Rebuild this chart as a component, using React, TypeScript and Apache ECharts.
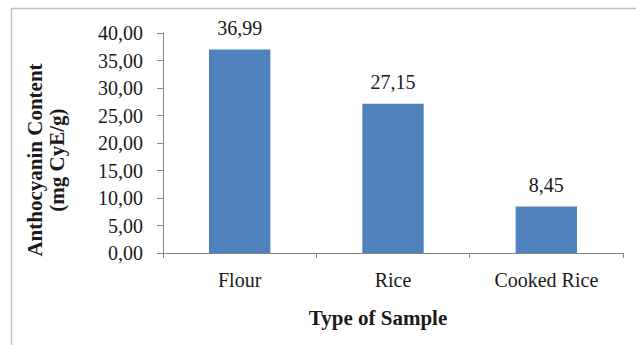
import React, { useEffect, useRef } from "react";
import * as echarts from "echarts";

const categories = ["Flour", "Rice", "Cooked Rice"];
const values = [36.99, 27.15, 8.45];
const yTicks = { min: 0, max: 40, interval: 5 };
const yTitleLines = ["Anthocyanin Content", "(mg CyE/g)"];
const xTitle = "Type of Sample";

const fmt = (v: number) => v.toFixed(2).replace(".", ",");
const FONT = "Times New Roman, Liberation Serif, DejaVu Serif, serif";

export default function App() {
  const ref = useRef<HTMLDivElement>(null);
  useEffect(() => {
    if (!ref.current) return;
    const chart = echarts.init(ref.current, null, { renderer: "svg" });
    chart.setOption({
      animation: false,
      backgroundColor: "#ffffff",
      textStyle: { fontFamily: FONT },
      grid: { left: 163, right: 13, top: 33, bottom: 92, containLabel: false },
      xAxis: {
        type: "category",
        data: categories,
        axisLine: { lineStyle: { color: "#868686", width: 1 } },
        axisTick: { show: true, length: 5, lineStyle: { color: "#868686" } },
        axisLabel: { fontFamily: FONT, fontSize: 20, color: "#1a1a1a", margin: 17 },
      },
      yAxis: {
        type: "value",
        min: yTicks.min,
        max: yTicks.max,
        interval: yTicks.interval,
        splitLine: { show: false },
        axisLine: { show: true, lineStyle: { color: "#868686", width: 1 } },
        axisTick: { show: true, length: 6, lineStyle: { color: "#868686" } },
        axisLabel: {
          fontFamily: FONT,
          fontSize: 20,
          color: "#1a1a1a",
          margin: 20,
          formatter: (v: number) => fmt(v),
        },
      },
      series: [
        {
          type: "bar",
          data: values,
          barWidth: "40%",
          itemStyle: { color: "#4f81bd" },
          label: {
            show: true,
            position: "top",
            distance: 12,
            fontFamily: FONT,
            fontSize: 20,
            color: "#1a1a1a",
            formatter: (p: any) => fmt(p.value),
          },
        },
      ],
      graphic: [
        {
          type: "line",
          shape: { x1: 11, y1: 8.5, x2: 636, y2: 8.5 },
          style: { stroke: "#c0c0c0", lineWidth: 1.5 },
        },
        {
          type: "line",
          shape: { x1: 11.5, y1: 8, x2: 11.5, y2: 345 },
          style: { stroke: "#c0c0c0", lineWidth: 1.5 },
        },
        {
          type: "text",
          x: 35,
          y: 160,
          rotation: Math.PI / 2,
          style: {
            text: yTitleLines[0],
            fontFamily: FONT,
            fontSize: 21,
            fontWeight: "bold",
            fill: "#1a1a1a",
            align: "center",
            verticalAlign: "middle",
          },
        },
        {
          type: "text",
          x: 57,
          y: 160,
          rotation: Math.PI / 2,
          style: {
            text: yTitleLines[1],
            fontFamily: FONT,
            fontSize: 21,
            fontWeight: "bold",
            fill: "#1a1a1a",
            align: "center",
            verticalAlign: "middle",
          },
        },
        {
          type: "text",
          x: 378,
          y: 318,
          style: {
            text: xTitle,
            fontFamily: FONT,
            fontSize: 21,
            fontWeight: "bold",
            fill: "#1a1a1a",
            align: "center",
            verticalAlign: "middle",
          },
        },
      ],
    });
    return () => chart.dispose();
  }, []);
  return (
    <div
      ref={ref}
      style={{ position: "fixed", left: 0, top: 0, width: 636, height: 345 }}
    />
  );
}
